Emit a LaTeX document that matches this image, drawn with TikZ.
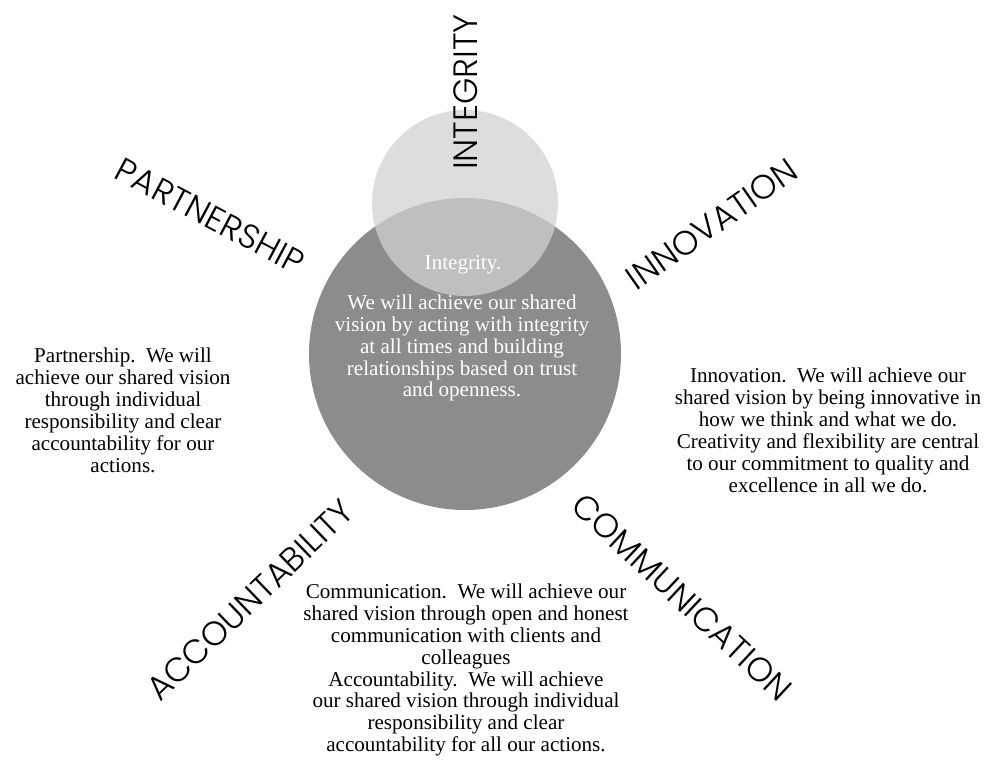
\documentclass[tikz,border=0pt]{standalone}
\usepackage{fontspec}
\setmainfont{Liberation Serif}
\newfontfamily\capfont{Poppins Light}

\begin{document}
\begin{tikzpicture}[
    x=0.025cm, y=-0.025cm,
    spoke/.style={font=\capfont\fontsize{24}{24}\selectfont, inner sep=0pt},
    blurb/.style={align=center, inner sep=0pt, font=\fontsize{15}{15.6}\selectfont},
    incircle/.style={blurb, text=white}
]
\useasboundingbox (0,0) rectangle (1000,781);

% the two circles
\fill[black!45] (465,354) circle (156);
\fill[black!18, opacity=0.75] (465,203) circle (93);

% text inside the circles
\node[incircle] (inttitle) at (463,265) {Integrity.};
\node[incircle] (intbody) at (462,348) {We will achieve our shared\\
  vision by acting with integrity\\ at all times and building\\
  relationships based on trust\\ and openness.};

% spoke labels
\node[spoke, rotate=90]  (integrity)  at (466,92)  {INTEGRITY};
\node[spoke, rotate=-28] (partner)    at (210,216) {PARTNERSHIP};
\node[spoke, rotate=35]  (innov)      at (712,224) {INNOVATION};
\node[spoke, rotate=44]  (account)    at (250,600) {ACCOUNTABILITY};
\node[spoke, rotate=-43] (commun)     at (682,597) {COMMUNICATION};

% descriptions
\node[blurb] (partnertxt) at (123,410) {Partnership.\ \ We will\\
  achieve our shared vision\\ through individual\\
  responsibility and clear\\ accountability for our\\ actions.};
\node[blurb] (innovtxt) at (828,430) {Innovation.\ \ We will achieve our\\
  shared vision by being innovative in\\ how we think and what we do.\\
  Creativity and flexibility are central\\ to our commitment to quality and\\
  excellence in all we do.};
\node[blurb] (communtxt) at (466,670) {Communication.\ \ We will achieve our\\
  shared vision through open and honest\\ communication with clients and\\
  colleagues\\ Accountability.\ \ We will achieve\\
  our shared vision through individual\\ responsibility and clear\\
  accountability for all our actions.};

\end{tikzpicture}
\end{document}
